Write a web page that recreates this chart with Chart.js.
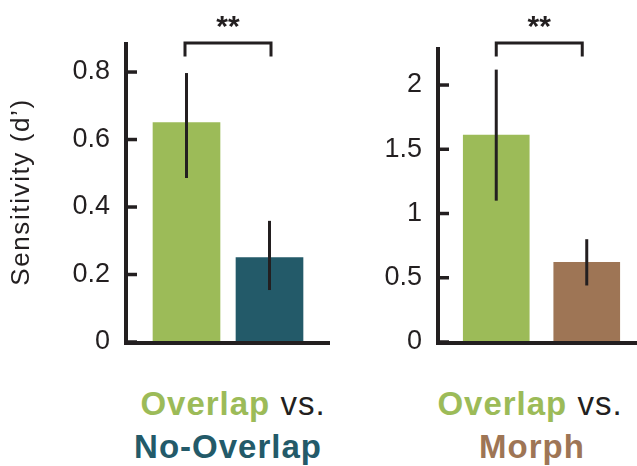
<!DOCTYPE html>
<html><head><meta charset="utf-8">
<script src="https://cdn.jsdelivr.net/npm/chart.js@4/dist/chart.umd.min.js"></script>
<style>
html,body{margin:0;padding:0;background:#fff;width:637px;height:466px;overflow:hidden;}
#c1{position:absolute;left:0;top:0;}
#c2{position:absolute;left:330px;top:0;}
.lab{position:absolute;font-family:"Liberation Sans",Arial,Helvetica,sans-serif;font-size:33px;font-weight:bold;white-space:nowrap;transform:translateX(-50%);line-height:33px;letter-spacing:1px;}
.vs{font-weight:normal;color:#231f20;}
.g{color:#9CBB58;} .t{color:#235A69;} .b{color:#9E7555;}
</style></head><body>
<canvas id="c1" width="330" height="360"></canvas>
<canvas id="c2" width="307" height="360"></canvas>
<div class="lab" style="left:233px;top:387px;"><span class="g">Overlap</span><span class="vs"> vs.</span></div>
<div class="lab t" style="left:228px;top:430px;">No-Overlap</div>
<div class="lab" style="left:530px;top:387px;"><span class="g">Overlap</span><span class="vs"> vs.</span></div>
<div class="lab b" style="left:532px;top:430px;">Morph</div>
<script>
// ---- data ----
const leftCategories = ['Overlap', 'No-Overlap'];
const leftValues = [0.65, 0.25];
const leftErrLow = [0.486, 0.154];
const leftErrHigh = [0.797, 0.359];
const leftTicks = [0, 0.2, 0.4, 0.6, 0.8];

const rightCategories = ['Overlap', 'Morph'];
const rightValues = [1.61, 0.62];
const rightErrLow = [1.10, 0.44];
const rightErrHigh = [2.12, 0.80];
const rightTicks = [0, 0.5, 1, 1.5, 2];

const significance = '**';
const yTitle = "Sensitivity (d\u2019)";

// ---- styles ----
const GREEN = '#9CBB58', TEAL = '#235A69', BROWN = '#9E7555', INK = '#231F20';
const FONT = '"Liberation Sans", Arial, Helvetica, sans-serif';

function makeChart(canvas, cats, vals, lo, hi, ticks, colors, o) {
  const deco = {
    id: 'deco',
    afterDatasetsDraw(chart) {
      const ctx = chart.ctx, ys = chart.scales.y, ca = chart.chartArea;
      const bars = chart.getDatasetMeta(0).data;
      ctx.save();
      ctx.strokeStyle = INK; ctx.fillStyle = INK;
      // error bars
      ctx.lineWidth = 3; ctx.lineCap = 'butt';
      bars.forEach((b, i) => {
        ctx.beginPath();
        ctx.moveTo(b.x, ys.getPixelForValue(lo[i]));
        ctx.lineTo(b.x, ys.getPixelForValue(hi[i]));
        ctx.stroke();
      });
      // axes
      const ax = ca.left - o.axisGap;
      const by = ys.getPixelForValue(0) + 1;
      ctx.lineWidth = 4;
      ctx.beginPath();
      ctx.moveTo(ax, ca.top); ctx.lineTo(ax, by + 2);
      ctx.moveTo(ax - 2, by); ctx.lineTo(chart.width, by);
      ctx.stroke();
      // inward tick marks
      ctx.lineWidth = 3.5;
      ticks.forEach(v => {
        const y = ys.getPixelForValue(v);
        ctx.beginPath(); ctx.moveTo(ax, y); ctx.lineTo(ax + 11, y); ctx.stroke();
      });
      // significance bracket
      const x0 = bars[0].x + o.brL, x1 = bars[1].x + o.brR;
      ctx.lineWidth = 3; ctx.lineJoin = 'miter';
      ctx.beginPath();
      ctx.moveTo(x0, 56.5); ctx.lineTo(x0, 43); ctx.lineTo(x1, 43); ctx.lineTo(x1, 56.5);
      ctx.stroke();
      ctx.font = 'bold 30px ' + FONT;
      ctx.textAlign = 'center'; ctx.textBaseline = 'middle';
      ctx.fillText(significance, (x0 + x1) / 2, 28);
      ctx.restore();
    }
  };
  return new Chart(canvas, {
    type: 'bar',
    data: { labels: cats, datasets: [{ data: vals, backgroundColor: colors, barThickness: o.barW, borderWidth: 0 }] },
    options: {
      responsive: false, animation: false, devicePixelRatio: 1,
      layout: { padding: { left: 0, top: o.top, right: o.padRight, bottom: 18 } },
      plugins: { legend: { display: false }, tooltip: { enabled: false } },
      scales: {
        x: { display: false, offset: true },
        y: {
          min: 0, max: o.yMax,
          afterFit(s) {
            s.width = o.areaLeft; s.paddingTop = 0; s.paddingBottom = 0;
            if (!s._wrapped) {
              const orig = s.drawTitle;
              s.drawTitle = function () {
                const c = this.ctx; c.save(); c.letterSpacing = '1.6px';
                orig.apply(this, arguments); c.restore();
              };
              s._wrapped = true;
            }
          },
          afterBuildTicks(s) { s.ticks = ticks.map(v => ({ value: v })); },
          grid: { display: false, drawTicks: false },
          border: { display: false },
          ticks: { padding: o.labelPad, color: INK, font: { family: FONT, size: 27 }, callback: v => String(v) },
          title: o.title ? { display: true, text: o.title, color: INK, font: { family: FONT, size: 26 }, padding: { top: 6, bottom: 0 } } : { display: false }
        }
      }
    },
    plugins: [deco]
  });
}

makeChart(document.getElementById('c1'), leftCategories, leftValues, leftErrLow, leftErrHigh, leftTicks,
  [GREEN, TEAL],
  { yMax: 0.889, top: 42, areaLeft: 145, padRight: 19, axisGap: 19, labelPad: 35, barW: 67, title: yTitle, brL: -1.5, brR: 1.5 });

makeChart(document.getElementById('c2'), rightCategories, rightValues, rightErrLow, rightErrHigh, rightTicks,
  [GREEN, BROWN],
  { yMax: 2.296, top: 47, areaLeft: 121, padRight: 5, axisGap: 13, labelPad: 29, barW: 66, title: null, brL: 0, brR: -4.5 });
</script>
</body></html>
